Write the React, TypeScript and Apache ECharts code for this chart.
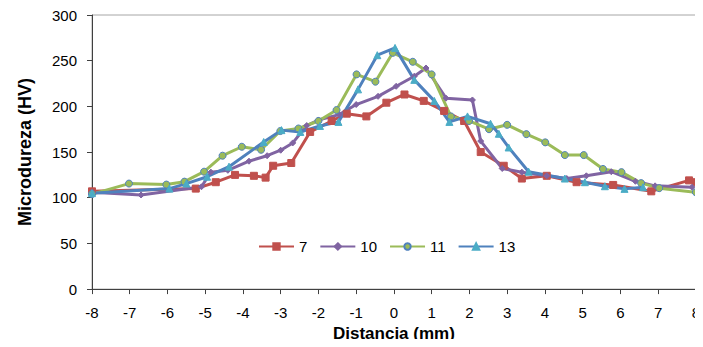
import React, { useEffect, useRef } from "react";
import * as echarts from "echarts";

const xTicks = { min: -8, max: 8, interval: 1 };
const yTicks = { min: 0, max: 300, interval: 50 };

const s7: [number, number][] = [
  [-8, 107], [-5.25, 110], [-4.72, 117], [-4.21, 125], [-3.71, 124], [-3.4, 122],
  [-3.2, 135], [-2.72, 138], [-2.22, 172], [-1.65, 184], [-1.25, 192], [-0.73, 189],
  [-0.2, 204], [0.28, 213], [0.79, 206], [1.33, 195], [1.86, 184], [2.3, 150],
  [2.91, 135], [3.39, 121], [4.05, 124], [4.84, 117], [5.81, 114], [6.82, 107],
  [7.82, 119], [8, 117],
];
const s10: [number, number][] = [
  [-8, 106], [-6.7, 103], [-5.1, 112], [-4.85, 128], [-4.4, 130], [-3.84, 140],
  [-3.36, 146], [-3.0, 152], [-2.68, 160], [-2.31, 179], [-2.0, 185], [-1.45, 191],
  [-1.0, 202], [-0.42, 211], [0.06, 222], [0.54, 233], [0.85, 242], [1.38, 209],
  [2.08, 207], [2.3, 162], [2.87, 132], [3.39, 128], [4.05, 124], [4.58, 121],
  [5.1, 124], [5.76, 128.5], [6.4, 118], [6.92, 113], [7.9, 111.5],
];
const s11: [number, number][] = [
  [-8, 104], [-7.02, 115.5], [-6.03, 114.4], [-5.55, 117.6], [-5.03, 128.5],
  [-4.54, 146], [-4.03, 155.8], [-3.52, 152.5], [-3.01, 173], [-2.53, 175.8],
  [-2.0, 184], [-1.52, 196], [-0.99, 235], [-0.49, 227], [-0.03, 258.6], [0.5, 248.8],
  [1.0, 235], [1.51, 189], [1.99, 184], [2.52, 175], [3.0, 179.8], [3.51, 169.6],
  [4.01, 160.6], [4.53, 146.7], [5.03, 146.7], [5.54, 131.5], [6.03, 128], [6.55, 116],
  [7.03, 110.5], [8.0, 106],
];
const s13: [number, number][] = [
  [-8, 105], [-5.95, 110], [-5.5, 115.5], [-4.95, 123], [-4.37, 134], [-3.45, 161],
  [-2.98, 174], [-2.48, 172], [-1.96, 178.6], [-1.47, 183], [-0.95, 218.6], [-0.44, 256],
  [0.03, 264], [0.54, 229], [1.07, 206], [1.47, 183], [1.95, 189], [2.56, 181],
  [2.78, 170], [3.04, 155], [3.57, 128.5], [4.53, 121], [5.06, 117], [5.59, 112.6],
  [6.11, 109.7], [6.6, 111.5],
];

const FONT = "'Liberation Sans', Arial, sans-serif";

export default function App() {
  const ref = useRef<HTMLDivElement>(null);
  useEffect(() => {
    if (!ref.current) return;
    const chart = echarts.init(ref.current, null, { renderer: "svg" });
    const mk = (name: string, data: [number, number][], color: string, symbol: string, size: number, mFill: string, mBorder: string) => ({
      name,
      type: "line",
      data,
      symbol,
      symbolSize: size,
      lineStyle: { color, width: 3 },
      itemStyle: { color: mFill, borderColor: mBorder, borderWidth: 1 },
      color,
    });
    chart.setOption({
      animation: false,
      textStyle: { fontFamily: FONT },
      grid: { left: 92, right: 3, top: 15, bottom: 56, show: true, borderColor: "#a6a6a6", borderWidth: 1 },
      legend: {
        left: 253,
        top: 234,
        itemWidth: 35,
        itemHeight: 8,
        itemGap: 12,
        textStyle: { fontSize: 15, color: "#000", fontFamily: FONT },
        data: ["7", "10", "11", "13"],
      },
      xAxis: {
        type: "value",
        min: xTicks.min,
        max: xTicks.max,
        interval: xTicks.interval,
        name: "Distancia (mm)",
        nameLocation: "middle",
        nameGap: 32,
        nameTextStyle: { fontSize: 17, fontWeight: "bold", color: "#000", fontFamily: FONT },
        axisLine: { onZero: false, lineStyle: { color: "#404040", width: 1 } },
        axisTick: { inside: false, length: 5, lineStyle: { color: "#404040" } },
        axisLabel: { fontSize: 15, color: "#000", margin: 16, showMaxLabel: true, showMinLabel: true },
        splitLine: { show: false },
      },
      yAxis: {
        type: "value",
        min: yTicks.min,
        max: yTicks.max,
        interval: yTicks.interval,
        name: "Microdureza (HV)",
        nameLocation: "middle",
        nameGap: 58,
        nameTextStyle: { fontSize: 18, fontWeight: "bold", color: "#000", fontFamily: FONT },
        axisLine: { show: true, onZero: false, lineStyle: { color: "#404040", width: 1 } },
        axisTick: { show: true, inside: false, length: 5, lineStyle: { color: "#404040" } },
        axisLabel: { fontSize: 15, color: "#000", margin: 15 },
        splitLine: { show: false },
      },
      series: [
        mk("7", s7, "#C0504D", "rect", 7, "#C0504D", "#C0504D"),
        mk("10", s10, "#8064A2", "diamond", 6, "#8064A2", "#8064A2"),
        mk("11", s11, "#9BBB59", "circle", 7, "#9BBB59", "#4F81BD"),
        mk("13", s13, "#4F81BD", "triangle", 7, "#4BACC6", "#4BACC6"),
      ],
    });
    return () => chart.dispose();
  }, []);
  return <div ref={ref} style={{ width: 703, height: 347, margin: -8 }} />;
}
